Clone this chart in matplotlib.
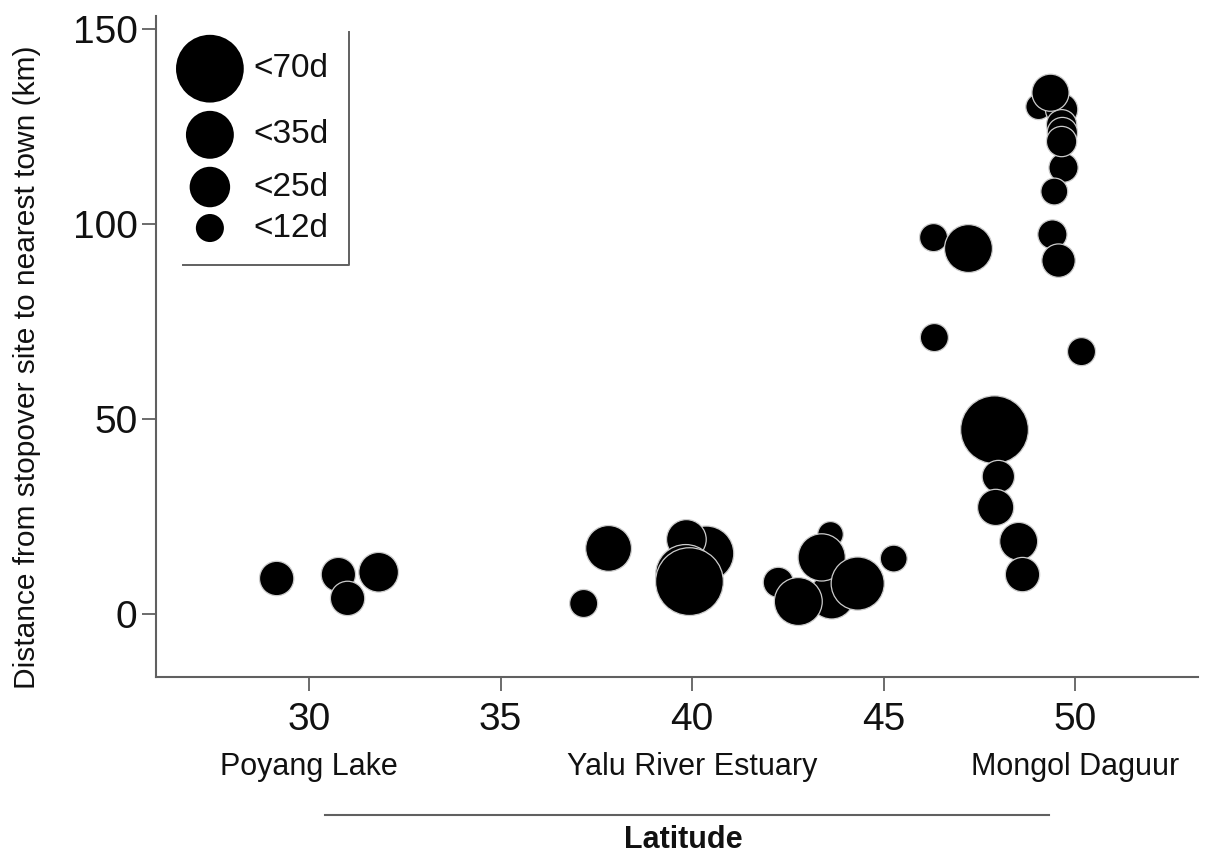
import matplotlib.pyplot as plt
from matplotlib.lines import Line2D

plt.rcParams['font.family'] = ['Liberation Sans', 'DejaVu Sans']

# stopover sites: latitude, distance to nearest town (km), stopover duration (days)
# listed in drawing order
lat = [29.16, 30.77, 31.01, 31.82,
       37.17, 37.82, 40.37, 39.85, 39.83, 39.93,
       43.64, 43.61, 42.25, 43.38, 42.77, 44.32, 45.26,
       46.30, 47.21, 46.32, 47.89, 47.99, 47.92, 48.52, 48.62,
       49.40, 49.56, 50.16, 49.69, 49.45,
       49.04, 49.64, 49.64, 49.66, 49.64, 49.35]
dist = [9.2, 10.2, 4.1, 10.8,
        2.8, 16.9, 15.6, 19.2, 10.2, 8.4,
        4.6, 20.5, 8.2, 14.6, 3.3, 7.9, 14.3,
        96.5, 93.7, 70.9, 47.3, 35.3, 27.4, 18.7, 10.2,
        97.3, 90.6, 67.3, 114.4, 108.3,
        130.0, 129.3, 125.4, 123.4, 121.1, 133.6]
days = [18, 18, 18, 24,
        12, 32, 46, 24, 55, 70,
        31, 10, 14, 34, 35, 43, 11,
        12, 35, 12, 70, 16, 20, 22, 18,
        13, 17, 12, 13, 11,
        10, 16, 14, 14, 14, 21]

legend_days = [70, 35, 25, 12]
legend_labels = ['<70d', '<35d', '<25d', '<12d']

sites = ['Poyang Lake', 'Yalu River Estuary', 'Mongol Daguur']
site_lat = [30, 40, 50]


def bubble(d):
    # marker area proportional to duration
    return [34 * v for v in d]


fig = plt.figure(figsize=(12.06, 8.59), dpi=100)
ax = fig.add_axes([0.129, 0.212, 0.8644, 0.7696])

ax.scatter(lat, dist, s=bubble(days), c='black', edgecolors='#cccccc',
           linewidths=0.9, zorder=3)

ax.set_xlim(26.0, 53.2)
ax.set_ylim(-16, 153.3)
ax.set_xticks([30, 35, 40, 45, 50])
ax.set_yticks([0, 50, 100, 150])

for s in ['top', 'right']:
    ax.spines[s].set_visible(False)
for s in ['left', 'bottom']:
    ax.spines[s].set_color('#606060')
    ax.spines[s].set_linewidth(1.5)
ax.tick_params(axis='both', colors='#606060', labelcolor='#111111',
               length=10, width=1.3, labelsize=28)
ax.tick_params(axis='x', pad=8)
ax.tick_params(axis='y', pad=3)

# legend drawn by hand: only right and bottom edges of the box
leg_y = [0.920, 0.820, 0.741, 0.679]
ax.scatter([0.0521] * 4, leg_y, s=bubble(legend_days), c='black',
           edgecolors='none', transform=ax.transAxes, clip_on=False, zorder=4)
for yy, lab in zip(leg_y, legend_labels):
    ax.text(0.0934, yy, lab, transform=ax.transAxes, fontsize=24,
            va='center', ha='left', color='#111111')
ax.plot([0.0262, 0.1854, 0.1854], [0.623, 0.623, 0.976], color='#606060',
        lw=1.4, transform=ax.transAxes, clip_on=False)

# site names under the ticks
for name, x in zip(sites, site_lat):
    ax.text(x, -0.136, name, transform=ax.get_xaxis_transform(),
            fontsize=22, ha='center', va='center', color='#111111')

fig.add_artist(Line2D([0.2695, 0.8698], [0.0512, 0.0512], color='#606060',
                      lw=1.5, transform=fig.transFigure))
fig.text(0.567, 0.022, 'Latitude', fontsize=22, fontweight='bold',
         ha='center', va='center', color='#111111')
fig.text(0.0224, 0.573, 'Distance from stopover site to nearest town (km)',
         fontsize=21.5, rotation=90, ha='center', va='center', color='#111111')

fig.savefig('out.png', dpi=100)
